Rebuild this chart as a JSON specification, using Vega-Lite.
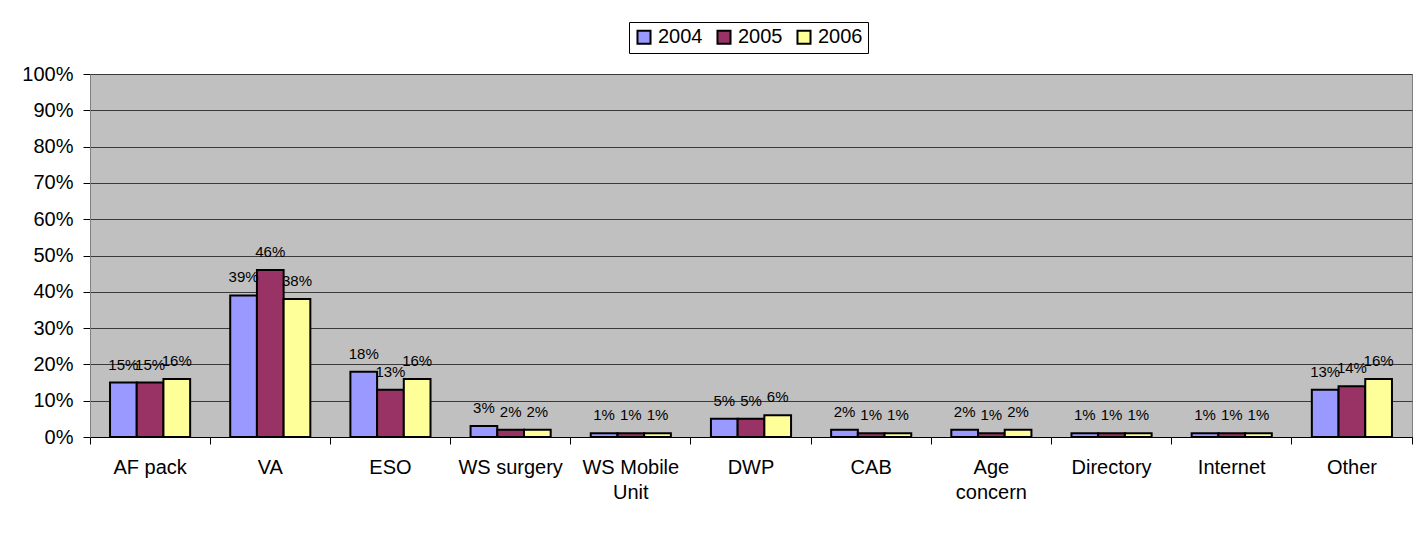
{
  "$schema": "https://vega.github.io/schema/vega-lite/v6.json",
  "autosize": "none",
  "width": 1322,
  "height": 363,
  "padding": {"left": 90, "top": 74, "right": 14, "bottom": 104},
  "background": "white",
  "config": {
    "font": "Liberation Sans",
    "view": {"fill": "#C0C0C0", "stroke": "#808080", "strokeWidth": 1}
  },
  "data": {
    "values": [
      {"cat": "AF pack", "year": "2004", "v": 0.15},
      {"cat": "AF pack", "year": "2005", "v": 0.15},
      {"cat": "AF pack", "year": "2006", "v": 0.16},
      {"cat": "VA", "year": "2004", "v": 0.39},
      {"cat": "VA", "year": "2005", "v": 0.46},
      {"cat": "VA", "year": "2006", "v": 0.38},
      {"cat": "ESO", "year": "2004", "v": 0.18},
      {"cat": "ESO", "year": "2005", "v": 0.13},
      {"cat": "ESO", "year": "2006", "v": 0.16},
      {"cat": "WS surgery", "year": "2004", "v": 0.03},
      {"cat": "WS surgery", "year": "2005", "v": 0.02},
      {"cat": "WS surgery", "year": "2006", "v": 0.02},
      {"cat": "WS Mobile Unit", "year": "2004", "v": 0.01},
      {"cat": "WS Mobile Unit", "year": "2005", "v": 0.01},
      {"cat": "WS Mobile Unit", "year": "2006", "v": 0.01},
      {"cat": "DWP", "year": "2004", "v": 0.05},
      {"cat": "DWP", "year": "2005", "v": 0.05},
      {"cat": "DWP", "year": "2006", "v": 0.06},
      {"cat": "CAB", "year": "2004", "v": 0.02},
      {"cat": "CAB", "year": "2005", "v": 0.01},
      {"cat": "CAB", "year": "2006", "v": 0.01},
      {"cat": "Age concern", "year": "2004", "v": 0.02},
      {"cat": "Age concern", "year": "2005", "v": 0.01},
      {"cat": "Age concern", "year": "2006", "v": 0.02},
      {"cat": "Directory", "year": "2004", "v": 0.01},
      {"cat": "Directory", "year": "2005", "v": 0.01},
      {"cat": "Directory", "year": "2006", "v": 0.01},
      {"cat": "Internet", "year": "2004", "v": 0.01},
      {"cat": "Internet", "year": "2005", "v": 0.01},
      {"cat": "Internet", "year": "2006", "v": 0.01},
      {"cat": "Other", "year": "2004", "v": 0.13},
      {"cat": "Other", "year": "2005", "v": 0.14},
      {"cat": "Other", "year": "2006", "v": 0.16}
    ]
  },
  "encoding": {
    "x": {
      "field": "cat", "type": "nominal", "sort": null,
      "scale": {"paddingInner": 0, "paddingOuter": 0},
      "axis": {
        "title": null, "labelAngle": 0, "bandPosition": 1, "tickExtra": true,
        "tickSize": 7, "tickColor": "#000", "domainColor": "#000",
        "labelFontSize": 20, "labelColor": "#000", "labelPadding": 13, "labelLineHeight": 25,
        "labelFont": "Liberation Sans", "grid": false, "labelLimit": 0,
        "labelExpr": "datum.label == 'WS Mobile Unit' ? ['WS Mobile', 'Unit'] : datum.label == 'Age concern' ? ['Age', 'concern'] : datum.label"
      }
    },
    "xOffset": {
      "field": "year", "type": "nominal",
      "scale": {"paddingInner": 0, "paddingOuter": 0.75}
    },
    "y": {
      "field": "v", "type": "quantitative",
      "scale": {"domain": [0, 1], "nice": false},
      "axis": {
        "title": null, "format": ".0%", "values": [0, 0.1, 0.2, 0.3, 0.4, 0.5, 0.6, 0.7, 0.8, 0.9, 1],
        "grid": true, "gridColor": "#3a3a3a", "gridOpacity": 1, "gridWidth": 1,
        "tickSize": 7, "tickColor": "#000", "domain": true, "domainColor": "#808080",
        "labelFontSize": 20, "labelColor": "#000", "labelPadding": 10, "labelFont": "Liberation Sans"
      }
    }
  },
  "layer": [
    {
      "mark": {"type": "bar", "stroke": "#000", "strokeWidth": 2},
      "encoding": {
        "color": {
          "field": "year", "type": "nominal",
          "scale": {"domain": ["2004", "2005", "2006"], "range": ["#9999FF", "#993366", "#FFFF99"]},
          "legend": {
            "title": null, "orient": "none", "direction": "horizontal", "columns": 3,
            "legendX": 539, "legendY": -52,
            "strokeColor": "#000", "fillColor": "#FFFFFF", "padding": 5,
            "symbolType": "square", "symbolSize": 170, "symbolStrokeColor": "#000", "symbolStrokeWidth": 2,
            "symbolOpacity": 1,
            "labelFontSize": 20, "labelFont": "Liberation Sans", "labelColor": "#000", "labelOffset": 4,
            "columnPadding": 10
          }
        }
      }
    },
    {
      "mark": {"type": "text", "fontSize": 15, "font": "Liberation Sans", "color": "#000", "baseline": "alphabetic", "dy": -13},
      "encoding": {
        "text": {"field": "v", "type": "quantitative", "format": ".0%"}
      }
    }
  ]
}
